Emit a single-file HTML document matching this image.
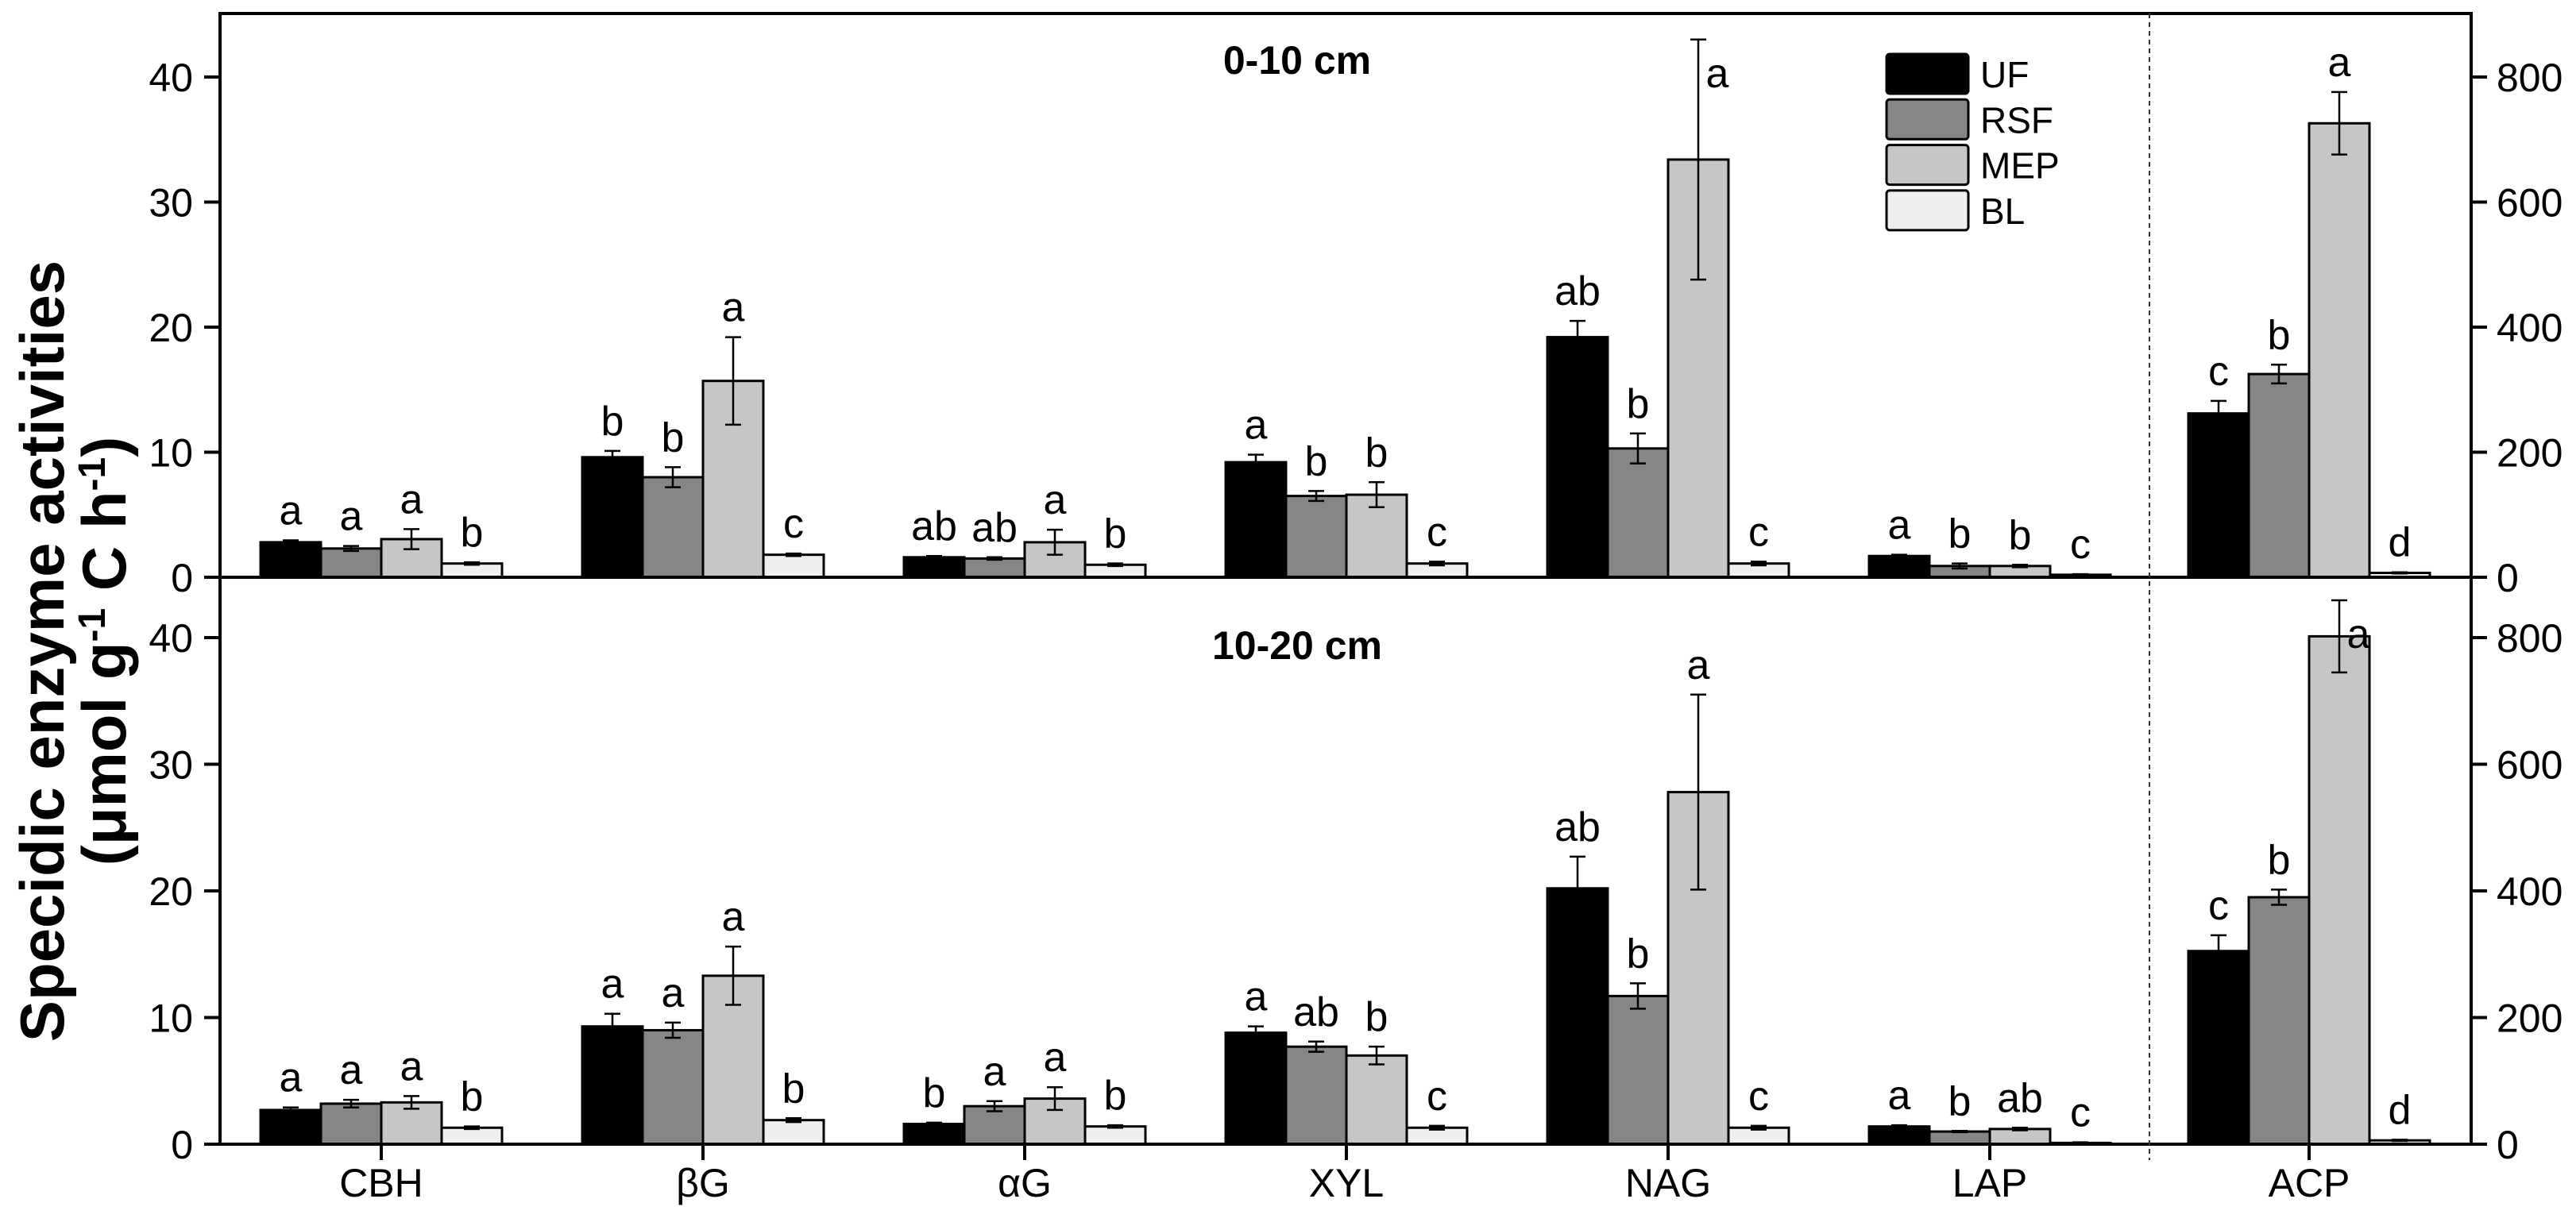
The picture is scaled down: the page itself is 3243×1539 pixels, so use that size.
<!DOCTYPE html>
<html><head><meta charset="utf-8"><style>
html,body{margin:0;padding:0;background:#fff}
svg{display:block}
text{font-family:"Liberation Sans",Arial,sans-serif;fill:#000}
</style></head><body>
<svg id="chart" width="3243" height="1539" viewBox="0 0 3243 1539" xmlns="http://www.w3.org/2000/svg">
<g id="g"></g>
</svg>
<script>
const categories = ["CBH","βG","αG","XYL","NAG","LAP","ACP"];
const series = ["UF","RSF","MEP","BL"];
const colors = ["#000000","#868686","#c6c6c6","#efefef"];
// 0-10 cm (last value ACP on right axis)
const topUF  = [2.8, 9.6, 1.6, 9.2, 19.2, 1.7, 262];
const topRSF = [2.3, 8.0, 1.5, 6.5, 10.3, 0.9, 325];
const topMEP = [3.05, 15.7, 2.8, 6.6, 33.4, 0.9, 726];
const topBL  = [1.1, 1.8, 1.0, 1.1, 1.1, 0.2, 7];
const topErrUF  = [0.15, 0.5, 0.1, 0.6, 1.3, 0.1, 20];
const topErrRSF = [0.2, 0.8, 0.1, 0.4, 1.2, 0.2, 15];
const topErrMEP = [0.8, 3.5, 1.0, 1.0, 9.6, 0.1, 50];
const topErrBL  = [0.1, 0.1, 0.1, 0.15, 0.15, 0.05, 1];
const topLetUF  = ["a","b","ab","a","ab","a","c"];
const topLetRSF = ["a","b","ab","b","b","b","b"];
const topLetMEP = ["a","a","a","b","a","b","a"];
const topLetBL  = ["b","c","b","c","c","c","d"];
// 10-20 cm
const botUF  = [2.7, 9.3, 1.6, 8.8, 20.2, 1.4, 305];
const botRSF = [3.2, 9.0, 3.0, 7.7, 11.7, 1.0, 390];
const botMEP = [3.3, 13.3, 3.6, 7.0, 27.8, 1.2, 802];
const botBL  = [1.3, 1.9, 1.4, 1.3, 1.3, 0.1, 6];
const botErrUF  = [0.2, 1.0, 0.1, 0.5, 2.5, 0.1, 25];
const botErrRSF = [0.3, 0.6, 0.4, 0.4, 1.0, 0.05, 12];
const botErrMEP = [0.5, 2.3, 0.9, 0.7, 7.7, 0.1, 57];
const botErrBL  = [0.1, 0.15, 0.1, 0.15, 0.15, 0.05, 1];
const botLetUF  = ["a","a","b","a","ab","a","c"];
const botLetRSF = ["a","a","a","ab","b","b","b"];
const botLetMEP = ["a","a","a","b","a","ab","a"];
const botLetBL  = ["b","b","b","c","c","c","d"];
const leftTicks = [0,10,20,30,40];
const rightTicks = [0,200,400,600,800];
const panelTitles = ["0-10 cm","10-20 cm"];

const NS="http://www.w3.org/2000/svg";
const root=document.getElementById('g');
function el(tag,attrs,parent){const e=document.createElementNS(NS,tag);for(const k in attrs)e.setAttribute(k,attrs[k]);(parent||root).appendChild(e);return e;}
function txt(s,attrs,parent){const t=el('text',attrs,parent);t.textContent=s;return t;}

const L=277,R=3111,DIV=2706,BW=76;
function xCenter(i){return i<6?480+405*i:2907;}
const panels=[
 {top:17,zero:727,pxPer:15.75,vals:[topUF,topRSF,topMEP,topBL],errs:[topErrUF,topErrRSF,topErrMEP,topErrBL],lets:[topLetUF,topLetRSF,topLetMEP,topLetBL],title:panelTitles[0],ty:93},
 {top:727,zero:1441,pxPer:15.95,vals:[botUF,botRSF,botMEP,botBL],errs:[botErrUF,botErrRSF,botErrMEP,botErrBL],lets:[botLetUF,botLetRSF,botLetMEP,botLetBL],title:panelTitles[1],ty:830}
];

panels.forEach((p,pi)=>{
 const g=el('g',{});
 
 
 const yL=v=>p.zero-v*p.pxPer;
 const yR=v=>p.zero-(v/20)*p.pxPer;
 for(let s=0;s<4;s++){
  for(let c=0;c<7;c++){
   const v=p.vals[s][c], e=p.errs[s][c];
   const yf=c<6?yL:yR;
   const x=xCenter(c)-2*BW+s*BW;
   const yt=yf(v);
   const r=el('rect',{x:x,y:yt,width:BW,height:p.zero-yt,fill:colors[s],stroke:'#000','stroke-width':3},g);
   
   
   const cx=x+BW/2, ye1=yf(v+e), ye2=yf(Math.max(v-e,0));
   const eb=el('path',{d:`M${cx},${ye1}V${ye2}M${cx-10},${ye1}h20M${cx-10},${ye2}h20`,stroke:'#000','stroke-width':2.5,fill:'none'},g);
   
   
   let lx=cx, ly=ye1-20;
   if(ly-38<p.top+8){lx=cx+24;ly=ye1+60;}
   const lt=txt(p.lets[s][c],{x:lx,y:ly,'font-size':52,'text-anchor':'middle'},g);
   
   
  }
 }
 const fr=el('rect',{x:L,y:p.top,width:R-L,height:p.zero-p.top,fill:'none',stroke:'#000','stroke-width':4},g);
 
 
 leftTicks.forEach(t=>{
  const y=yL(t);
  el('line',{x1:L-20,x2:L,y1:y,y2:y,stroke:'#000','stroke-width':4},g);
  const tl=txt(String(t),{x:243,y:y+18,'font-size':50,'text-anchor':'end'},g);
  
  
 });
 rightTicks.forEach(t=>{
  const y=yR(t);
  el('line',{x1:R,x2:R+20,y1:y,y2:y,stroke:'#000','stroke-width':4},g);
  const tl=txt(String(t),{x:3143,y:y+18,'font-size':50,'text-anchor':'start'},g);
  
  
 });
 const pt=txt(p.title,{x:1633,y:p.ty,'font-size':50,'font-weight':'bold','text-anchor':'middle'},g);
 
 
});

categories.forEach((c,i)=>{
 el('line',{x1:xCenter(i),x2:xCenter(i),y1:1441,y2:1461,stroke:'#000','stroke-width':4});
 const t=txt(c,{x:xCenter(i),y:1507,'font-size':50,'text-anchor':'middle'});
 
 
});

const dv=el('line',{x1:DIV,x2:DIV,y1:17,y2:1461,stroke:'#333','stroke-width':2,'stroke-dasharray':'6,5'});



const lg=el('g',{});


series.forEach((s,i)=>{
 const y=68+i*57.3;
 const b=el('rect',{x:2375,y:y,width:103,height:50,rx:4,fill:colors[i],stroke:'#000','stroke-width':3},lg);
 
 
 const t=txt(s,{x:2493,y:y+42,'font-size':46},lg);
 
 
});

const yt=el('text',{transform:'translate(0,820) rotate(-90)','font-size':78,'font-weight':'bold','text-anchor':'middle'});


const l1=el('tspan',{x:0,y:80},yt);l1.textContent='Specidic enzyme activities';
const l2=el('tspan',{x:0,y:158},yt);l2.textContent='(μmol g';
const s1=el('tspan',{'baseline-shift':'super','font-size':48},yt);s1.textContent='-1';
const l3=el('tspan',{},yt);l3.textContent=' C h';
const s2=el('tspan',{'baseline-shift':'super','font-size':48},yt);s2.textContent='-1';
const l4=el('tspan',{},yt);l4.textContent=')';
</script>
</body></html>
